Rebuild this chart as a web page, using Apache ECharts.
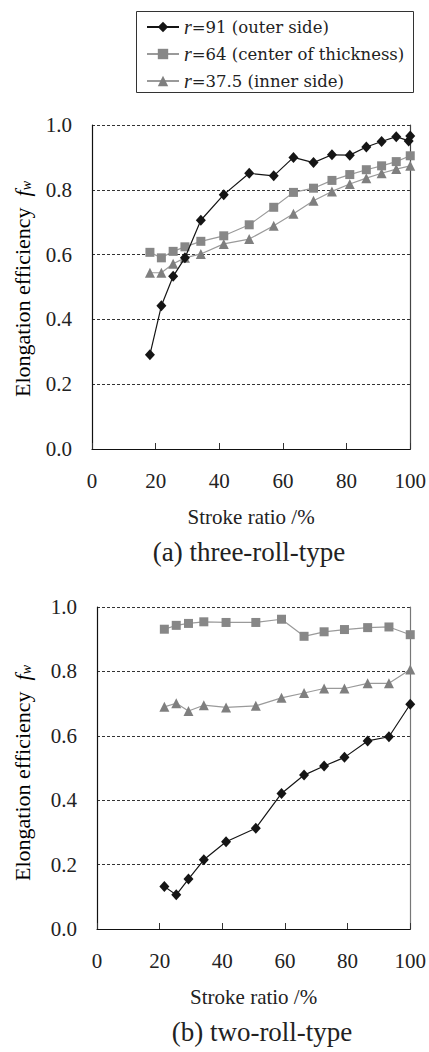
<!DOCTYPE html>
<html>
<head>
<meta charset="utf-8">
<script src="https://cdn.jsdelivr.net/npm/echarts@6/dist/echarts.min.js"></script>
<style>
html,body{margin:0;padding:0;background:#fff;}
#c{width:429px;height:1052px;}
</style>
</head>
<body>
<div id="c"></div>
<script>
// ---- data ----
const seriesNames = ['r=91 (outer side)', 'r=64 (center of thickness)', 'r=37.5 (inner side)'];
const xTicks = [0, 20, 40, 60, 80, 100];
const yTicks = [0.0, 0.2, 0.4, 0.6, 0.8, 1.0];

// (a) three-roll-type
const topX = [18.2, 21.8, 25.5, 29.2, 34.2, 41.4, 49.4, 57.1, 63.3, 69.6, 75.4, 81.0, 86.2, 91.0, 95.6, 100];
const topOuterX = [18.2, 21.8, 25.5, 29.2, 34.2, 41.4, 49.4, 57.1, 63.3, 69.6, 75.4, 81.0, 86.2, 91.0, 95.6, 99.5, 100];
const topOuter = [0.291, 0.442, 0.533, 0.590, 0.706, 0.785, 0.851, 0.843, 0.900, 0.884, 0.908, 0.907, 0.932, 0.949, 0.964, 0.951, 0.966];
const topCenter = [0.607, 0.590, 0.610, 0.624, 0.641, 0.658, 0.692, 0.746, 0.792, 0.805, 0.829, 0.847, 0.862, 0.874, 0.887, 0.905];
const topInner = [0.544, 0.544, 0.572, 0.590, 0.602, 0.633, 0.648, 0.689, 0.726, 0.766, 0.795, 0.818, 0.836, 0.851, 0.864, 0.874];

// (b) two-roll-type
const botX = [21.5, 25.3, 29.2, 34.1, 41.2, 50.7, 58.9, 66.1, 72.5, 79.0, 86.4, 93.2, 100];
const botOuter = [0.132, 0.106, 0.155, 0.215, 0.271, 0.313, 0.421, 0.478, 0.506, 0.533, 0.584, 0.597, 0.698];
const botCenter = [0.931, 0.943, 0.949, 0.954, 0.952, 0.952, 0.962, 0.909, 0.923, 0.930, 0.936, 0.938, 0.914];
const botInner = [0.690, 0.701, 0.677, 0.695, 0.688, 0.693, 0.718, 0.733, 0.747, 0.747, 0.763, 0.763, 0.806];

const captions = ['(a) three-roll-type', '(b) two-roll-type'];
const xName = 'Stroke ratio /%';

// ---- helpers ----
const pair = (xs, ys) => xs.map((x, i) => [x, ys[i]]);
const SERIF = 'Liberation Serif, serif';
const SERIF2 = 'DejaVu Serif, serif';
const TXT = '#222';

const styles = [
  {symbol: 'diamond', symbolSize: [10, 11], color: '#151515', line: '#151515'},
  {symbol: 'rect', symbolSize: 9, color: '#878787', line: '#9a9a9a'},
  {symbol: 'triangle', symbolSize: 10, color: '#7f7f7f', line: '#9a9a9a'}
];

function mkSeries(name, data, idx, sIdx) {
  const s = styles[sIdx];
  return {
    name: name, type: 'line', xAxisIndex: idx, yAxisIndex: idx * 2,
    data: data, symbol: s.symbol, symbolSize: s.symbolSize, showAllSymbol: true,
    itemStyle: {color: s.color, borderWidth: 0},
    lineStyle: {color: s.line, width: 1.2},
    z: 5 - sIdx, animation: false
  };
}

const grids = [
  {left: 92, top: 125, width: 321, height: 324},
  {left: 97, top: 607, width: 318, height: 322}
];

function xAxis(i) {
  return {
    type: 'value', gridIndex: i, min: xTicks[0], max: xTicks[xTicks.length - 1], interval: 20,
    axisLine: {show: true, lineStyle: {color: '#111', width: 1.2}},
    axisTick: {show: true, inside: true, length: 6, lineStyle: {color: '#333'}},
    splitLine: {show: false},
    axisLabel: {margin: 21, fontFamily: SERIF, fontSize: 21, color: TXT},
    name: xName, nameLocation: 'middle', nameGap: 57,
    nameTextStyle: {fontFamily: SERIF, fontSize: 21, color: TXT}
  };
}
function yAxisL(i) {
  return {
    type: 'value', gridIndex: i, min: yTicks[0], max: yTicks[yTicks.length - 1], interval: 0.2,
    axisLine: {show: true, onZero: false, lineStyle: {color: '#111', width: 1.2}},
    axisTick: {show: false},
    splitLine: {show: true, lineStyle: {color: '#333', width: 1, type: [3, 2]}},
    axisLabel: {margin: 20, fontFamily: SERIF, fontSize: 21, color: TXT,
      formatter: v => v.toFixed(1)}
  };
}
function yAxisR(i) {
  return {
    type: 'value', gridIndex: i, position: 'right', min: 0, max: 1, interval: 0.2,
    axisLine: {show: true, onZero: false, lineStyle: {color: i === 0 ? '#444' : '#777', width: 1.2}},
    axisTick: {show: false}, axisLabel: {show: false}, splitLine: {show: false}
  };
}

const yTitleRich = {
  a: {fontFamily: SERIF, fontSize: 22, color: TXT},
  f: {fontFamily: SERIF, fontSize: 22, fontStyle: 'italic', color: TXT},
  w: {fontFamily: SERIF, fontSize: 14, fontStyle: 'italic', color: TXT, padding: [9, 0, 0, 0]}
};
function yTitle(y) {
  return {
    type: 'text', x: 22, y: y, rotation: Math.PI / 2,
    style: {text: '{a|Elongation efficiency  }{f|f}{w|w}', rich: yTitleRich,
      align: 'center', verticalAlign: 'middle', textAlign: 'center', textVerticalAlign: 'middle'}
  };
}
function caption(text, x, y) {
  return {
    type: 'text', x: x, y: y,
    style: {text: text, fontFamily: SERIF, fontSize: 27, fill: TXT,
      align: 'center', verticalAlign: 'middle', textAlign: 'center', textVerticalAlign: 'middle'}
  };
}

const chart = echarts.init(document.getElementById('c'), null, {renderer: 'svg'});
chart.setOption({
  animation: false,
  backgroundColor: '#fff',
  grid: grids,
  xAxis: [xAxis(0), xAxis(1)],
  yAxis: [yAxisL(0), yAxisR(0), yAxisL(1), yAxisR(1)],
  legend: {
    data: seriesNames, orient: 'vertical', left: 146, top: 17, padding: 0,
    itemWidth: 32, itemHeight: 13, itemGap: 7,
    formatter: n => '{i|r}{t|' + n.substring(1) + '}',
    textStyle: {color: TXT, lineHeight: 18,
      rich: {
        i: {fontFamily: SERIF, fontStyle: 'italic', fontSize: 20, color: TXT, lineHeight: 18},
        t: {fontFamily: SERIF2, fontSize: 16.5, color: TXT, lineHeight: 18}
      }
    }
  },
  graphic: [
    {type: 'rect', shape: {x: 136.5, y: 11.5, width: 277, height: 81},
      style: {fill: 'none', stroke: '#333', lineWidth: 1}},
    yTitle(289), yTitle(773),
    caption(captions[0], 249, 552),
    caption(captions[1], 262, 1032)
  ],
  series: [
    mkSeries(seriesNames[0], pair(topOuterX, topOuter), 0, 0),
    mkSeries(seriesNames[1], pair(topX, topCenter), 0, 1),
    mkSeries(seriesNames[2], pair(topX, topInner), 0, 2),
    mkSeries(seriesNames[0], pair(botX, botOuter), 1, 0),
    mkSeries(seriesNames[1], pair(botX, botCenter), 1, 1),
    mkSeries(seriesNames[2], pair(botX, botInner), 1, 2)
  ]
});
</script>
</body>
</html>
